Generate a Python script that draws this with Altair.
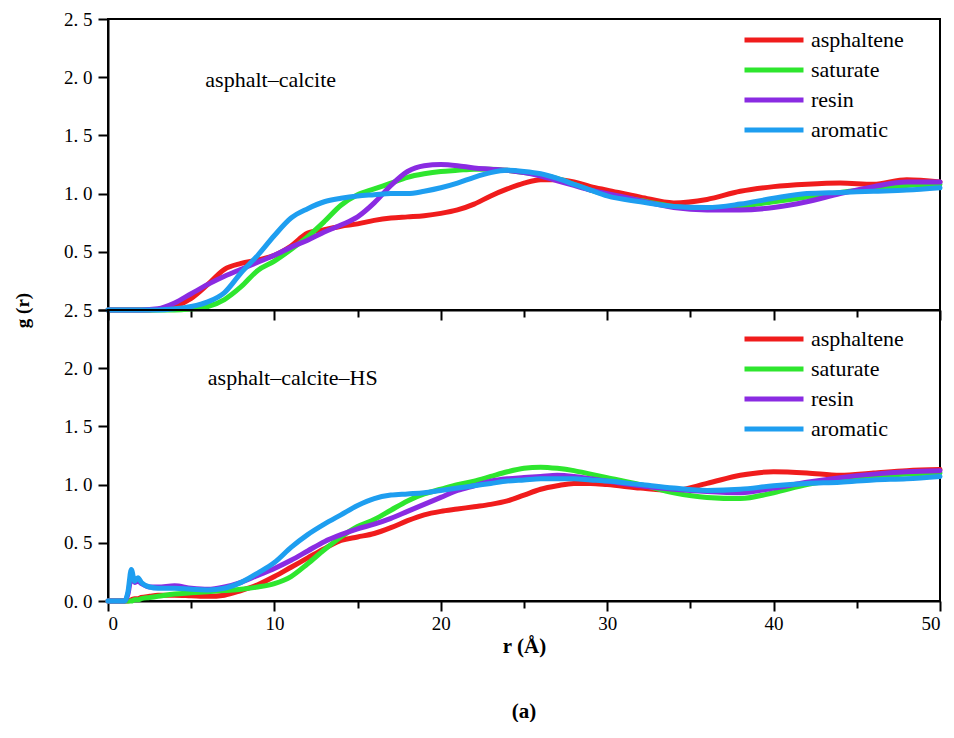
import altair as alt
import pandas as pd

series = ["asphaltene", "saturate", "resin", "aromatic"]
colors = ["#f01c1c", "#2ee62e", "#8a2be2", "#1e9ef0"]

# ---------- upper panel: asphalt-calcite ----------
r_top = [0, 2, 3, 4, 5, 6, 7, 8, 9, 10, 11, 12, 13, 14, 15, 16, 17, 18, 19, 20,
         21, 22, 23, 24, 25, 26, 27, 28, 29, 30, 32, 34, 36, 38, 40, 42, 44, 46, 48, 50]
top_asphaltene = [0, 0, 0.005, 0.03, 0.10, 0.22, 0.35, 0.40, 0.43, 0.47, 0.55, 0.66, 0.69, 0.72,
                  0.74, 0.77, 0.79, 0.80, 0.81, 0.83, 0.86, 0.91, 0.98, 1.04, 1.09, 1.12, 1.12,
                  1.10, 1.06, 1.03, 0.97, 0.92, 0.95, 1.02, 1.06, 1.08, 1.09, 1.08, 1.12, 1.10]
top_saturate = [0, 0, 0, 0, 0.01, 0.03, 0.09, 0.20, 0.34, 0.42, 0.52, 0.63, 0.76, 0.90, 0.99,
                1.04, 1.09, 1.14, 1.17, 1.19, 1.20, 1.21, 1.21, 1.20, 1.18, 1.16, 1.13, 1.08,
                1.03, 0.99, 0.94, 0.89, 0.87, 0.89, 0.93, 0.97, 1.01, 1.04, 1.07, 1.08]
top_resin = [0, 0, 0.01, 0.06, 0.14, 0.22, 0.29, 0.35, 0.41, 0.47, 0.54, 0.60, 0.67, 0.73, 0.80,
             0.92, 1.07, 1.19, 1.24, 1.25, 1.24, 1.22, 1.21, 1.20, 1.18, 1.15, 1.11, 1.07, 1.03,
             1.00, 0.94, 0.88, 0.86, 0.86, 0.88, 0.93, 1.00, 1.06, 1.10, 1.10]
top_aromatic = [0, 0, 0, 0.01, 0.03, 0.07, 0.15, 0.32, 0.47, 0.64, 0.79, 0.87, 0.93, 0.96, 0.98,
                0.99, 1.00, 1.00, 1.02, 1.05, 1.09, 1.14, 1.18, 1.20, 1.19, 1.17, 1.13, 1.08,
                1.03, 0.98, 0.93, 0.89, 0.88, 0.91, 0.96, 1.00, 1.01, 1.02, 1.03, 1.05]

# ---------- lower panel: asphalt-calcite-HS ----------
r_bot = [0, 1.0, 1.2, 1.4, 1.6, 1.8, 2.0, 2.5, 3, 4, 5, 6, 7, 8, 9, 10, 11, 12, 13, 14, 15, 16,
         17, 18, 19, 20, 21, 22, 23, 24, 25, 26, 27, 28, 29, 30, 32, 34, 36, 38, 40, 42, 44, 46, 48, 50]
bot_asphaltene = [0, 0, 0, 0.01, 0.02, 0.02, 0.03, 0.04, 0.05, 0.05, 0.045, 0.04, 0.05, 0.09,
                  0.14, 0.21, 0.29, 0.37, 0.45, 0.52, 0.55, 0.58, 0.63, 0.69, 0.74, 0.77, 0.79,
                  0.81, 0.83, 0.86, 0.91, 0.96, 0.99, 1.01, 1.01, 1.00, 0.97, 0.95, 1.01, 1.08,
                  1.11, 1.10, 1.08, 1.10, 1.12, 1.13]
bot_saturate = [0, 0, 0, 0, 0.01, 0.01, 0.02, 0.03, 0.04, 0.06, 0.07, 0.08, 0.09, 0.10, 0.12,
                0.15, 0.21, 0.32, 0.44, 0.55, 0.64, 0.70, 0.78, 0.86, 0.92, 0.96, 1.00, 1.03,
                1.07, 1.11, 1.14, 1.15, 1.14, 1.12, 1.09, 1.06, 1.00, 0.93, 0.89, 0.88, 0.93,
                1.00, 1.04, 1.07, 1.09, 1.10]
bot_resin = [0, 0, 0.06, 0.20, 0.16, 0.17, 0.15, 0.12, 0.12, 0.13, 0.11, 0.10, 0.12, 0.16, 0.22,
             0.28, 0.35, 0.43, 0.51, 0.57, 0.62, 0.66, 0.71, 0.77, 0.83, 0.89, 0.95, 0.99, 1.03,
             1.05, 1.06, 1.07, 1.08, 1.07, 1.05, 1.03, 0.99, 0.96, 0.94, 0.93, 0.97, 1.02, 1.06,
             1.09, 1.11, 1.12]
bot_aromatic = [0, 0, 0.08, 0.27, 0.17, 0.20, 0.16, 0.12, 0.11, 0.11, 0.10, 0.095, 0.11, 0.16,
                0.24, 0.33, 0.46, 0.57, 0.66, 0.74, 0.82, 0.88, 0.91, 0.92, 0.93, 0.95, 0.97,
                0.99, 1.01, 1.03, 1.04, 1.05, 1.05, 1.05, 1.04, 1.03, 1.00, 0.97, 0.95, 0.96,
                0.99, 1.01, 1.02, 1.04, 1.05, 1.07]

panel_labels = ["asphalt\u2013calcite", "asphalt\u2013calcite\u2013HS"]
label_r = [5.85, 6.0]
label_g = [1.98, 1.92]

x_ticks = [0, 5, 10, 15, 20, 25, 30, 35, 40, 45, 50]
y_ticks = [0.0, 0.25, 0.5, 0.75, 1.0, 1.25, 1.5, 1.75, 2.0, 2.25, 2.5]

SERIF = "Liberation Serif"


def frame(r, cols):
    rows = []
    for name, vals in zip(series, cols):
        for x, y in zip(r, vals):
            rows.append({"r": x, "g": y, "component": name})
    return pd.DataFrame(rows)


def panel(df, idx, is_top, legend_y):
    x_axis_kw = dict(
        values=x_ticks,
        tickSize={"condition": {"test": "datum.value % 10 === 0", "value": 10}, "value": 7},
        grid=False,
        labels=not is_top,
        labelExpr="datum.value % 10 === 0 ? datum.label : ''",
        labelFont=SERIF, labelFontSize=19, labelPadding=3,
        titleFont=SERIF, titleFontSize=21, titleFontWeight="bold", titlePadding=2,
    )
    if is_top:
        x_axis = alt.Axis(title=None, **x_axis_kw)
    else:
        x_axis = alt.Axis(title="r (\u00c5)", **x_axis_kw)

    lbl = "replace(format(datum.value, '.1f'), '.', '. ')"
    test = "datum.value % 0.5 === 0" + (" && datum.value > 0" if is_top else "")
    y_axis_kw = dict(
        values=y_ticks,
        tickSize={"condition": {"test": "datum.value % 0.5 === 0", "value": 10}, "value": 5},
        grid=False,
        labelExpr=f"({test}) ? {lbl} : ''",
        labelFont=SERIF, labelFontSize=19, labelPadding=6,
    )
    if is_top:
        y_axis = alt.Axis(title="g (r)", titleAngle=-90, titleX=-86, titleY=291,
                          titleAlign="center", titleBaseline="middle",
                          titleFont=SERIF, titleFontSize=19, titleFontWeight="bold",
                          **y_axis_kw)
    else:
        y_axis = alt.Axis(title=None, **y_axis_kw)

    lines = alt.Chart(df).mark_line(strokeWidth=5, interpolate="monotone", strokeCap="round").encode(
        x=alt.X("r:Q", scale=alt.Scale(domain=[0, 50], nice=False), axis=x_axis),
        y=alt.Y("g:Q", scale=alt.Scale(domain=[0, 2.5], nice=False), axis=y_axis),
        color=alt.Color(
            "component:N",
            scale=alt.Scale(domain=series, range=colors),
            sort=series,
            legend=alt.Legend(
                title=None, orient="none", legendX=634, legendY=legend_y,
                symbolType="stroke", symbolSize=3481, symbolStrokeWidth=5,
                clipHeight=30, rowPadding=0, labelOffset=5,
                labelFont=SERIF, labelFontSize=22, labelColor="black",
            ),
        ),
        detail="component:N",
    )

    ann = pd.DataFrame({"r": [label_r[idx]], "g": [label_g[idx]], "t": [panel_labels[idx]]})
    text = alt.Chart(ann).mark_text(align="left", baseline="middle", font=SERIF,
                                    fontSize=22, color="black").encode(
        x="r:Q", y="g:Q", text="t:N"
    )
    return alt.layer(lines, text).properties(width=832, height=291)


top = panel(frame(r_top, [top_asphaltene, top_saturate, top_resin, top_aromatic]), 0, True, 6)
bottom = panel(frame(r_bot, [bot_asphaltene, bot_saturate, bot_resin, bot_aromatic]), 1, False, 14)

chart = alt.vconcat(top, bottom, spacing=0, bounds="flush").resolve_legend(
    color="independent"
).properties(
    title=alt.TitleParams("(a)", orient="bottom", anchor="middle", frame="group",
                          font=SERIF, fontSize=21, fontWeight="bold", offset=44, color="black"),
    padding={"left": 12, "top": 9, "right": 0, "bottom": 0},
    background="white",
).configure_view(
    stroke="black", strokeWidth=2
).configure_axis(
    domainColor="black", domainWidth=2, tickColor="black", tickWidth=2,
    labelColor="black", titleColor="black",
)

chart.save("out.html", embed_options={"renderer": "svg", "actions": False})
